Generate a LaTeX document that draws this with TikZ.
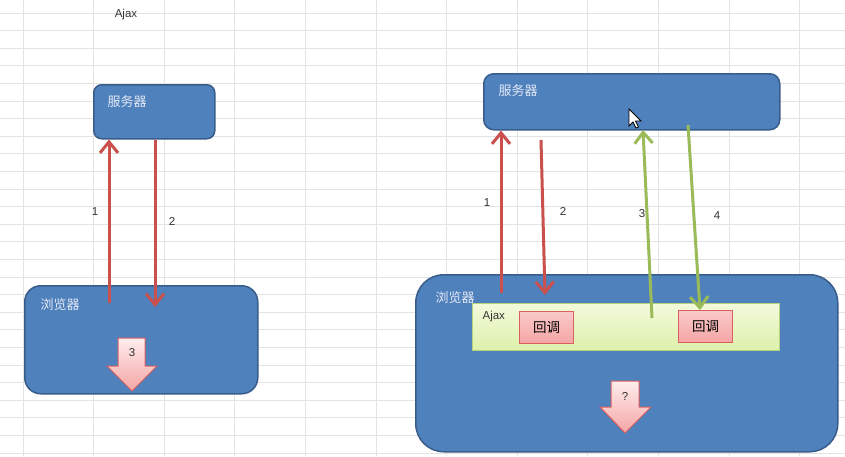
\documentclass[tikz,border=0pt]{standalone}
\usepackage{fontspec}
\setmainfont{Liberation Sans}
\newfontfamily\cjk{Noto Sans CJK SC}
\usetikzlibrary{arrows.meta, positioning, calc}
\definecolor{cbox}{HTML}{4F81BD}
\definecolor{cboxline}{HTML}{385D8A}
\definecolor{cred}{HTML}{C9504D}
\definecolor{cgreen}{HTML}{9BBB59}
\definecolor{cgrid}{HTML}{E3E3E3}
\definecolor{cpinktop}{HTML}{FFEDED}
\definecolor{cpinkbot}{HTML}{F5A5A5}
\definecolor{cpinkline}{HTML}{DA6060}
\definecolor{climetop}{HTML}{F3FADC}
\definecolor{climebot}{HTML}{DDF0AA}
\definecolor{climeline}{HTML}{B6D47E}
\definecolor{clabel}{HTML}{E4E9F5}
\tikzset{
  every picture/.style={x=1pt, y=-1pt, line width=1.2pt},
  box/.style={draw=cboxline, fill=cbox, anchor=north west, inner sep=0pt, line width=1.5pt},
  boxlabel/.style={font=\cjk\fontsize{13}{15}\selectfont, text=clabel, anchor=west, inner sep=0pt},
  ajaxbar/.style={draw=climeline, top color=climetop, bottom color=climebot, anchor=north west, inner sep=0pt, line width=1pt},
  callback/.style={draw=cpinkline, top color=cpinktop!50!cpinkbot, bottom color=cpinkbot, anchor=north west, inner sep=0pt,
    minimum width=54pt, minimum height=32pt, line width=1pt, font=\cjk\fontsize{13.5}{15}\selectfont},
  redarrow/.style={-{Straight Barb[length=11pt, width=18pt]}, draw=cred, line width=3pt},
  greenarrow/.style={-{Straight Barb[length=11pt, width=18pt]}, draw=cgreen, line width=3pt},
  bigarrow/.style={draw=cpinkline, top color=cpinktop, bottom color=cpinkbot, line width=1pt},
  num/.style={font=\fontsize{11.5}{13}\selectfont, text=black!80, inner sep=0pt},
}
\begin{document}
\begin{tikzpicture}
  \useasboundingbox (0,0) rectangle (845,456);
  \fill[white] (0,0) rectangle (845,456);
  % sheet grid
  \foreach \i in {0,...,11}
    \draw[cgrid, line width=1pt] (23+70.6*\i,0) -- (23+70.6*\i,456);
  \foreach \j in {0,...,25}
    \draw[cgrid, line width=1pt] (0,13+17.6*\j) -- (845,13+17.6*\j);
  \node[num] (title) at (126,15) {Ajax};

  % (a) plain request
  \node[box, rounded corners=8pt, minimum width=121pt, minimum height=54pt] (srvL) at (93,84) {};
  \node[boxlabel] (srvLtxt) at ([shift={(14,18)}]srvL.north west) {服务器};
  \node[box, rounded corners=16pt, minimum width=233pt, minimum height=108pt] (brwL) at (24,285) {};
  \node[boxlabel] (brwLtxt) at ([shift={(16,20)}]brwL.north west) {浏览器};
  \filldraw[bigarrow] (118,338) -- (145,338) -- (145,366) -- (157,366) -- (132,391) -- (107,366) -- (118,366) -- cycle;
  \node[num] (stepL) at (132,353) {3};
  \coordinate (l1) at (109,303);
  \coordinate (l2) at (155,307);
  \draw[redarrow] (l1) -- (l1 |- srvL.south);
  \draw[redarrow] (srvL.south -| l2) -- (l2);
  \node[num] (n1L) at (95,212) {1};
  \node[num] (n2L) at (172,221) {2};

  % (b) ajax request
  \node[box, rounded corners=10pt, minimum width=296pt, minimum height=56pt] (srvR) at (483,73) {};
  \node[boxlabel] (srvRtxt) at ([shift={(15,18)}]srvR.north west) {服务器};
  \node[box, rounded corners=28pt, minimum width=422pt, minimum height=177pt] (brwR) at (415,274) {};
  \node[boxlabel] (brwRtxt) at ([shift={(20,24)}]brwR.north west) {浏览器};
  \node[ajaxbar, minimum width=307pt, minimum height=47pt] (ajax) at (472,303) {};
  \node[num, anchor=west] (ajaxtxt) at ([shift={(10,14)}]ajax.north west) {Ajax};
  \node[callback] (cb1) at (519,311) {回调};
  \node[callback] (cb2) at (678,310) {回调};
  \filldraw[bigarrow] (611,381) -- (639,381) -- (639,407) -- (651,407) -- (625,433) -- (600,407) -- (611,407) -- cycle;
  \node[num] (stepR) at (625,396) {?};
  \coordinate (r1) at (501,293);
  \coordinate (r2s) at (541,140);
  \coordinate (r2e) at (545,295);
  \coordinate (r3s) at (652,318);
  \coordinate (r3e) at (643,130);
  \coordinate (r4s) at (688,125);
  \draw[redarrow] (r1) -- (r1 |- srvR.south);
  \draw[redarrow] (r2s) -- (r2e);
  \draw[greenarrow] (r3s) -- (r3e);
  \draw[greenarrow] (r4s) -- (cb2.north -| 700,0);
  \node[num] (n1R) at (487,203) {1};
  \node[num] (n2R) at (563,211) {2};
  \node[num] (n3R) at (642,214) {3};
  \node[num] (n4R) at (717,216) {4};
  % mouse pointer
  \filldraw[fill=white, draw=black, line width=0.8pt] (629,109) -- ++(0,17) -- ++(4,-4) -- ++(3,6) -- ++(2.5,-1) -- ++(-3,-6) -- ++(5.5,0) -- cycle;
\end{tikzpicture}
\end{document}
